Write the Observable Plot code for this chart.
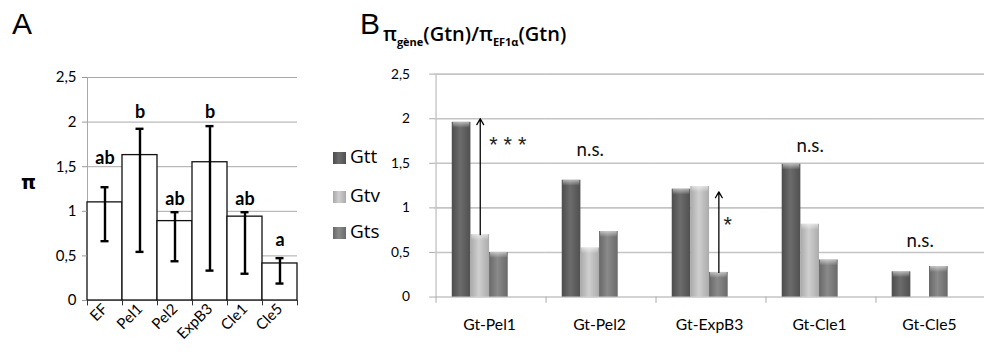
<!DOCTYPE html>
<html><head><meta charset="utf-8">
<script src="https://cdn.jsdelivr.net/npm/d3@7"></script>
<script src="https://cdn.jsdelivr.net/npm/@observablehq/plot@0.6"></script>
<style>
body{margin:0;background:#fff;}
#wrap{position:relative;width:984px;height:352px;overflow:hidden;background:#fff;font-family:Lato,sans-serif;}
.abs{position:absolute;white-space:nowrap;}
.panel{position:absolute;top:0;}
.big{font-family:"Liberation Sans",Arial,sans-serif;font-size:30px;line-height:30px;}
.leg{position:absolute;font-size:19px;line-height:19px;font-family:"Open Sans",sans-serif;}
</style></head>
<body>
<svg width="0" height="0" style="position:absolute">
 <defs>
  <linearGradient id="gGtt" x1="0" x2="1" y1="0" y2="0">
   <stop offset="0" stop-color="#4c4c4c"/><stop offset="0.45" stop-color="#6c6c6c"/><stop offset="1" stop-color="#505050"/>
  </linearGradient>
  <linearGradient id="gGtv" x1="0" x2="1" y1="0" y2="0">
   <stop offset="0" stop-color="#a9a9a9"/><stop offset="0.45" stop-color="#cfcfcf"/><stop offset="1" stop-color="#ababab"/>
  </linearGradient>
  <linearGradient id="gGts" x1="0" x2="1" y1="0" y2="0">
   <stop offset="0" stop-color="#686868"/><stop offset="0.45" stop-color="#8a8a8a"/><stop offset="1" stop-color="#6a6a6a"/>
  </linearGradient>
  <linearGradient id="gCap" x1="0" x2="0" y1="0" y2="1">
   <stop offset="0" stop-color="#ffffff" stop-opacity="0.55"/><stop offset="1" stop-color="#ffffff" stop-opacity="0"/>
  </linearGradient>
 </defs>
</svg>
<div id="wrap">
 <div id="A" class="panel" style="left:0"></div>
 <div id="B" class="panel" style="left:330px"></div>
 <div class="abs big" style="left:12px;top:9px">A</div>
 <div class="abs" style="left:21px;top:171px;font-size:19px;font-weight:700;font-family:'DejaVu Sans',sans-serif">π</div>
 <div class="abs big" style="left:360px;top:9px">B</div>
 <div class="abs" style="left:383px;top:23px;font-family:'Open Sans',sans-serif;font-weight:600;font-size:20px;line-height:22px">π<sub style="font-size:11px;font-weight:700">gène</sub>(Gtn)/π<sub style="font-size:11px;font-weight:700">EF1α</sub>(Gtn)</div>
 <div id="legend"></div>
</div>
<script>
// ---- Panel A data
const catsA = ["EF", "Pel1", "Pel2", "ExpB3", "Cle1", "Cle5"];
const meanA = [1.10, 1.63, 0.89, 1.55, 0.94, 0.415];
const errLowA = [0.665, 0.545, 0.44, 0.335, 0.30, 0.19];
const errHighA = [1.27, 1.925, 0.99, 1.955, 0.99, 0.475];
const lettersA = ["ab", "b", "ab", "b", "ab", "a"];
const letterYA = [1.60, 2.11, 1.13, 2.11, 1.13, 0.68];
const yTicks = [0, 0.5, 1, 1.5, 2, 2.5];

// ---- Panel B data
const genesB = ["Gt-Pel1", "Gt-Pel2", "Gt-ExpB3", "Gt-Cle1", "Gt-Cle5"];
const seriesB = ["Gtt", "Gtv", "Gts"];
const gttB = [1.96, 1.31, 1.21, 1.49, 0.283];
const gtvB = [0.70, 0.55, 1.24, 0.816, null];
const gtsB = [0.50, 0.735, 0.276, 0.416, 0.342];
const arrowGene = ["Gt-Pel1", "Gt-ExpB3"];
const arrowSeries = ["Gtv", "Gts"];
const arrowFrom = [0.70, 0.276];
const arrowTo = [2.0, 1.18];
const starGene = ["Gt-Pel1", "Gt-ExpB3"];
const starLabel = ["* * *", "*"];
const starY = [1.71, 0.81];
const nsGene = ["Gt-Pel2", "Gt-Cle1", "Gt-Cle5"];
const nsY = [1.65, 1.69, 0.625];

const fmt = d => String(d).replace(".", ",");

// ---- Panel A
const dataA = catsA.map((c, i) => ({cat: c, mean: meanA[i], lo: errLowA[i], hi: errHighA[i], letter: lettersA[i], ly: letterYA[i]}));
const plotA = Plot.plot({
  width: 330, height: 352,
  marginLeft: 87, marginRight: 33, marginTop: 77, marginBottom: 52,
  style: {fontFamily: "Lato, sans-serif", fontSize: "14px", color: "#000", background: "transparent", overflow: "visible"},
  x: {domain: catsA, padding: 0, axis: null},
  y: {domain: [0, 2.5], axis: null},
  marks: [
    Plot.ruleY(yTicks, {stroke: "#a8a8a8", strokeWidth: 1}),
    Plot.ruleX([catsA[0]], {dx: -17.5, y1: 2.5, y2: -0.06, stroke: "#a8a8a8"}),
    Plot.barY(dataA, {x: "cat", y: "mean", fill: "white", stroke: "#111", strokeWidth: 1.3}),
    Plot.ruleX(catsA, {x: d => d, dx: -17.5, y1: 0, y2: -0.06, stroke: "#333"}),
    Plot.ruleX([catsA[catsA.length - 1]], {dx: 17.5, y1: 0, y2: -0.06, stroke: "#333"}),
    Plot.ruleX(dataA, {x: "cat", y1: "lo", y2: "hi", stroke: "#000", strokeWidth: 2.4}),
    Plot.tickY(dataA, {x: "cat", y: "hi", insetLeft: 13.5, insetRight: 13.5, stroke: "#000", strokeWidth: 2.4}),
    Plot.tickY(dataA, {x: "cat", y: "lo", insetLeft: 13.5, insetRight: 13.5, stroke: "#000", strokeWidth: 2.4}),
    Plot.text(dataA, {x: "cat", y: "ly", text: "letter", fontSize: 18, fontWeight: 700, fill: "#000"}),
    Plot.axisY(yTicks, {tickSize: 5, tickPadding: 6, stroke: "#999", fill: "#000", tickFormat: fmt, fontSize: 15}),
    Plot.axisX({tickRotate: -45, tickSize: 0, tickPadding: 6, fontSize: 15, fill: "#000", label: null})
  ]
});
document.getElementById("A").appendChild(plotA);

// ---- Panel B
const vals = {Gtt: gttB, Gtv: gtvB, Gts: gtsB};
const rowsB = [];
genesB.forEach((g, i) => seriesB.forEach(s => { if (vals[s][i] != null) rowsB.push({gene: g, series: s, value: vals[s][i]}); }));
const arrowsB = arrowGene.map((g, i) => ({gene: g, series: arrowSeries[i], from: arrowFrom[i], to: arrowTo[i]}));
const starsB = starGene.map((g, i) => ({gene: g, label: starLabel[i], y: starY[i]}));
const nsB = nsGene.map((g, i) => ({gene: g, y: nsY[i]}));
const slots = [...seriesB, "·"];

const plotB = Plot.plot({
  width: 666, height: 352,
  marginLeft: 105, marginRight: 0, marginTop: 75, marginBottom: 50,
  style: {fontFamily: "Lato, sans-serif", fontSize: "14px", color: "#000", background: "transparent", overflow: "visible"},
  fx: {domain: genesB, padding: 0},
  x: {domain: slots, paddingInner: 0, paddingOuter: 0.805, axis: null},
  y: {domain: [0, 2.5]},
  color: {domain: seriesB, range: ["url(#gGtt)", "url(#gGtv)", "url(#gGts)"]},
  marks: [
    Plot.ruleY(yTicks, {stroke: "#c4c4c4", strokeWidth: 1.6}),
    Plot.ruleX([{gene: genesB[0]}], {fx: "gene", x: () => "Gtt", dx: -26, y1: 2.5, y2: 0, stroke: "#c4c4c4", strokeWidth: 1.4}),
    Plot.ruleX(genesB.map(g => ({gene: g})), {fx: "gene", x: () => "Gtt", dx: -26, y1: 0, y2: -0.07, stroke: "#aaa"}),
    Plot.barY(rowsB, {fx: "gene", x: "series", y: "value", fill: "series"}),
    Plot.barY(rowsB, {fx: "gene", x: "series", y1: "value", y2: "value", insetBottom: -6, insetLeft: 1, insetRight: 1, fill: "url(#gCap)"}),
    Plot.arrow(arrowsB, {fx: "gene", x1: "series", x2: "series", y1: "from", y2: "to", stroke: "#000", strokeWidth: 1.3, headLength: 8}),
    Plot.text(starsB, {fx: "gene", x: () => "Gts", dx: 9, y: "y", text: "label", fontSize: 22, fontFamily: "Liberation Sans, sans-serif", fill: "#222"}),
    Plot.text(nsB, {fx: "gene", x: () => "Gtv", y: "y", text: () => "n.s.", fontSize: 19, fill: "#111", letterSpacing: "1px"}),
    Plot.axisY(yTicks, {tickSize: 5, tickPadding: 20, stroke: "#aaa", fill: "#000", tickFormat: fmt, fontSize: 14}),
    Plot.axisFx({anchor: "bottom", tickSize: 0, tickPadding: 22, fontSize: 16, fill: "#000", label: null})
  ]
});
document.getElementById("B").appendChild(plotB);

// ---- Legend B
const legY = [152, 191, 227];
const legFill = {Gtt: "url(#gGtt)", Gtv: "url(#gGtv)", Gts: "url(#gGts)"};
const legend = document.getElementById("legend");
seriesB.forEach((s, i) => {
  const sw = document.createElementNS("http://www.w3.org/2000/svg", "svg");
  sw.setAttribute("width", 13); sw.setAttribute("height", 12);
  sw.setAttribute("style", `position:absolute;left:333px;top:${legY[i]}px`);
  const r = document.createElementNS("http://www.w3.org/2000/svg", "rect");
  r.setAttribute("width", 13); r.setAttribute("height", 12); r.setAttribute("fill", legFill[s]);
  sw.appendChild(r); legend.appendChild(sw);
  const t = document.createElement("div");
  t.className = "leg"; t.textContent = s;
  t.style.left = "350px"; t.style.top = (legY[i] - 5) + "px";
  legend.appendChild(t);
});
</script>
</body></html>
